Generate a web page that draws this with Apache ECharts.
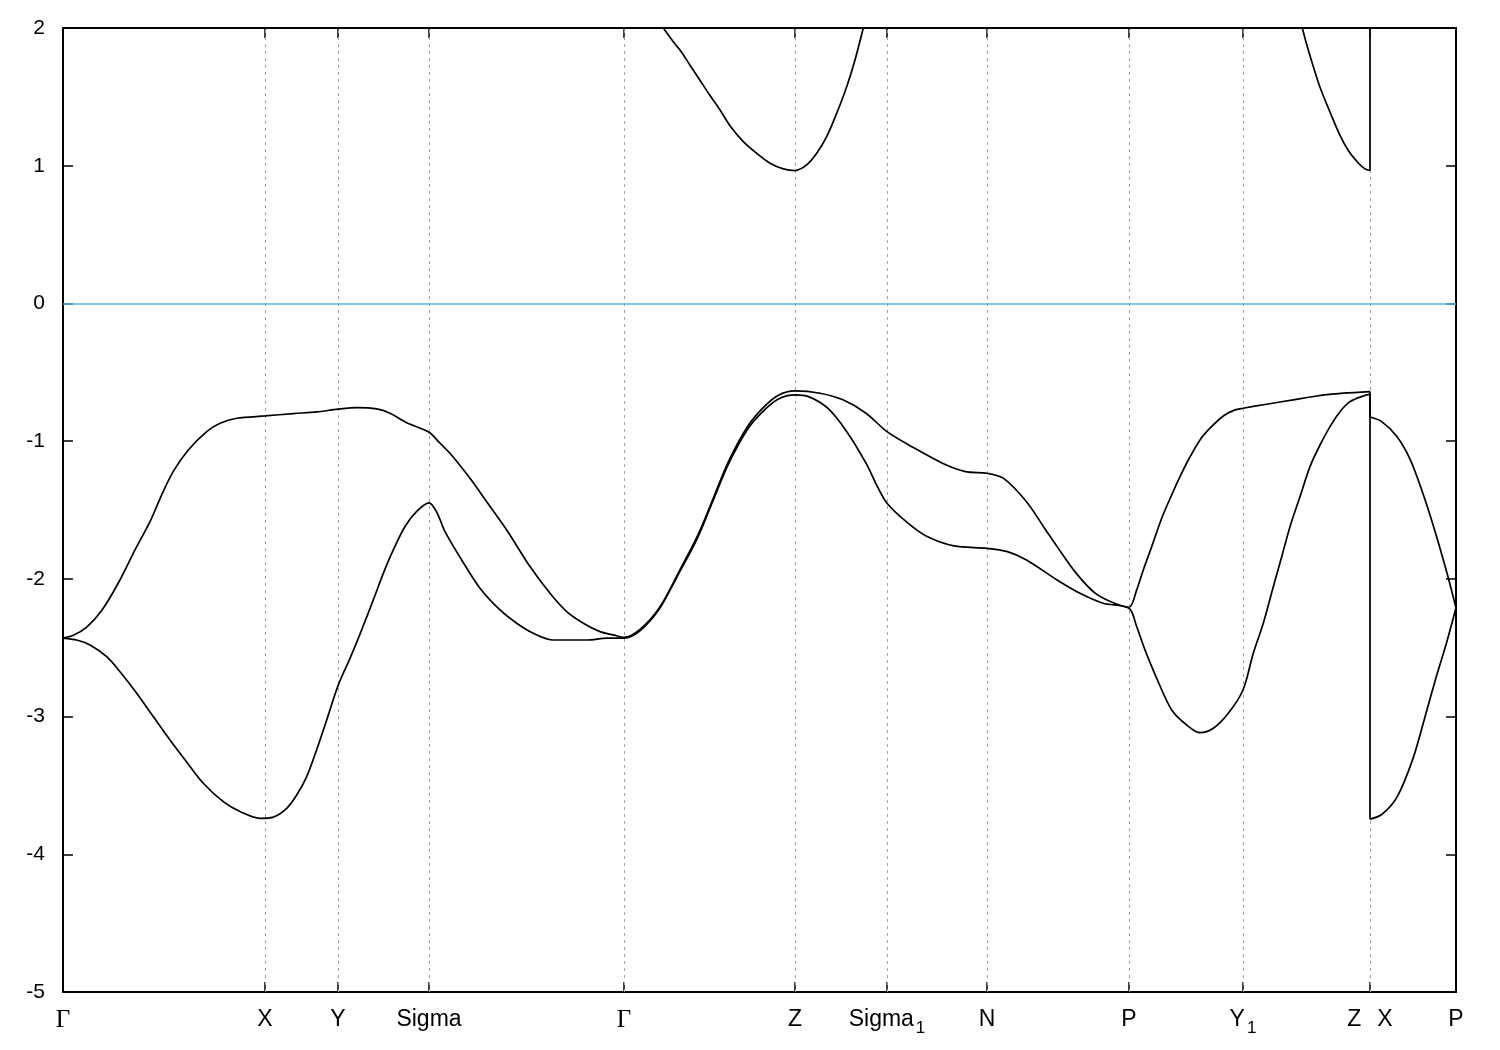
<!DOCTYPE html>
<html>
<head>
<meta charset="utf-8">
<script src="https://cdn.jsdelivr.net/npm/echarts@6/dist/echarts.min.js"></script>
<style>
  html, body { margin: 0; padding: 0; background: #ffffff; }
  #chart { width: 1500px; height: 1050px; }
</style>
</head>
<body>
<div id="chart"></div>
<script>
// High-symmetry points along the k-path
const kTicks = [0, 0.202, 0.275, 0.366, 0.561, 0.732, 0.824, 0.924, 1.066, 1.18, 1.307, 1.393];
const kLabels = ['Γ', 'X', 'Y', 'Sigma', 'Γ', 'Z', 'Sigma1', 'N', 'P', 'Y1', 'Z X', 'P'];
const energyTicks = [-5, -4, -3, -2, -1, 0, 1, 2];
const fermiLevel = 0;

// Lower valence band [k, E]
const band1 = [
  [0, -2.43], [0.0137, -2.444], [0.027, -2.48], [0.0437, -2.565], [0.057, -2.674],
  [0.0737, -2.83], [0.0903, -3.0], [0.107, -3.17], [0.1237, -3.33], [0.1403, -3.484],
  [0.1603, -3.618], [0.177, -3.69], [0.197, -3.739], [0.2103, -3.73], [0.2237, -3.666],
  [0.2337, -3.57], [0.2437, -3.436], [0.2537, -3.24], [0.2637, -3.025], [0.2753, -2.77],
  [0.287, -2.577], [0.2987, -2.37], [0.3103, -2.153], [0.3203, -1.96], [0.3303, -1.79],
  [0.342, -1.62], [0.3537, -1.51], [0.366, -1.448], [0.3737, -1.515], [0.382, -1.657],
  [0.3987, -1.863], [0.417, -2.068], [0.437, -2.226], [0.4537, -2.322], [0.4703, -2.395],
  [0.4903, -2.444], [0.5237, -2.444], [0.5437, -2.431], [0.561, -2.43],
  [0.5773, -2.375], [0.5964, -2.218], [0.6155, -1.965], [0.6347, -1.70], [0.65, -1.433],
  [0.6653, -1.168], [0.6844, -0.915], [0.6997, -0.785], [0.715, -0.695], [0.732, -0.664],
  [0.7456, -0.677], [0.7647, -0.761], [0.7838, -0.931], [0.803, -1.16], [0.8144, -1.33],
  [0.824, -1.451], [0.845, -1.596], [0.8641, -1.693], [0.8909, -1.761], [0.924, -1.778],
  [0.9444, -1.802], [0.9635, -1.863], [0.9941, -2.008], [1.017, -2.105], [1.04, -2.177],
  [1.066, -2.213],
  [1.0737, -2.347], [1.082, -2.516], [1.0937, -2.722], [1.1087, -2.952], [1.1237, -3.061],
  [1.137, -3.117], [1.1503, -3.085], [1.1653, -2.976], [1.18, -2.807], [1.1903, -2.54],
  [1.2003, -2.322], [1.2103, -2.057], [1.2187, -1.839], [1.227, -1.621], [1.237, -1.403],
  [1.247, -1.185], [1.257, -1.028], [1.267, -0.895], [1.277, -0.786], [1.287, -0.713],
  [1.3003, -0.672], [1.307, -0.659],
  [1.307, -3.745], [1.3187, -3.711], [1.3337, -3.589], [1.3503, -3.298], [1.3637, -2.957],
  [1.3737, -2.70], [1.3837, -2.46], [1.393, -2.21]
];

// Upper valence band [k, E]
const band2 = [
  [0, -2.43], [0.0103, -2.41], [0.0237, -2.35], [0.0387, -2.23], [0.0553, -2.03],
  [0.072, -1.79], [0.087, -1.585], [0.0987, -1.39], [0.1103, -1.22], [0.1253, -1.064],
  [0.1437, -0.931], [0.157, -0.87], [0.1737, -0.834], [0.202, -0.817], [0.2303, -0.80],
  [0.2537, -0.788], [0.275, -0.768], [0.2937, -0.757], [0.3137, -0.766], [0.327, -0.797],
  [0.3437, -0.866], [0.366, -0.935], [0.377, -1.015], [0.387, -1.088], [0.407, -1.27],
  [0.4237, -1.44], [0.4437, -1.645], [0.467, -1.911], [0.487, -2.105], [0.5037, -2.238],
  [0.5203, -2.322], [0.537, -2.383], [0.5503, -2.407], [0.561, -2.425],
  [0.5773, -2.365], [0.5964, -2.21], [0.6155, -1.955], [0.6347, -1.685], [0.65, -1.42],
  [0.6653, -1.15], [0.6844, -0.895], [0.6997, -0.76], [0.715, -0.668], [0.732, -0.635],
  [0.757, -0.652], [0.78, -0.70], [0.803, -0.797], [0.824, -0.931], [0.8488, -1.04],
  [0.8794, -1.16], [0.9024, -1.221], [0.924, -1.233], [0.9406, -1.27], [0.9635, -1.44],
  [0.9827, -1.645], [0.9941, -1.766], [1.0133, -1.96], [1.0324, -2.105], [1.0515, -2.177],
  [1.066, -2.206],
  [1.0737, -2.08], [1.0803, -1.935], [1.0887, -1.766], [1.0987, -1.56], [1.1087, -1.39],
  [1.117, -1.258], [1.1253, -1.137], [1.137, -0.991], [1.147, -0.906], [1.1603, -0.817],
  [1.172, -0.773], [1.18, -0.761], [1.2037, -0.732], [1.2303, -0.70], [1.2537, -0.672],
  [1.2803, -0.652], [1.307, -0.64],
  [1.307, -0.825], [1.3187, -0.858], [1.3337, -0.965], [1.347, -1.13], [1.359, -1.36],
  [1.371, -1.63], [1.3837, -1.95], [1.393, -2.21]
];

// Conduction band, visible part around Z
const band3a = [
  [0.6003, 2.0], [0.6103, 1.90], [0.617, 1.84], [0.627, 1.73], [0.637, 1.62],
  [0.647, 1.51], [0.657, 1.405], [0.667, 1.29], [0.6803, 1.175], [0.6937, 1.09],
  [0.707, 1.018], [0.7203, 0.977], [0.732, 0.965], [0.7437, 1.006], [0.7537, 1.09],
  [0.7637, 1.211], [0.7737, 1.381], [0.7837, 1.574], [0.792, 1.768], [0.8003, 2.0]
];

// Conduction band, visible part between Y1 and Z|X
const band3b = [
  [1.2393, 2.0], [1.2437, 1.88], [1.2503, 1.72], [1.257, 1.57], [1.267, 1.39],
  [1.277, 1.22], [1.2853, 1.11], [1.2953, 1.02], [1.302, 0.977], [1.307, 0.965],
  [1.307, 2.0]
];

function labelFor(value) {
  let best = 0, bd = Infinity;
  kTicks.forEach((t, i) => { const d = Math.abs(t - value); if (d < bd) { bd = d; best = i; } });
  const l = kLabels[best];
  if (l === 'Γ') return '{g|Γ}';
  if (l === 'Z X') return '{t|Z}{sp| }{t|X}';
  if (/1$/.test(l)) return '{t|' + l.slice(0, -1) + '}{s|1}';
  return '{t|' + l + '}';
}

// Split a band at path discontinuities (two consecutive points with the same k):
// continuous runs are drawn smoothed, the jumps are drawn as straight segments.
function splitBand(data) {
  const runs = [], jumps = [];
  let cur = [data[0]];
  for (let i = 1; i < data.length; i++) {
    if (data[i][0] === data[i - 1][0]) {
      runs.push(cur);
      jumps.push([data[i - 1], data[i]]);
      cur = [data[i]];
    } else {
      cur.push(data[i]);
    }
  }
  runs.push(cur);
  return { runs, jumps };
}

const lineStyleBand = { color: '#000000', width: 1.7 };
function lineSeries(name, data, smooth) {
  return {
    name, type: 'line', data, showSymbol: false, symbol: 'none', smooth,
    lineStyle: lineStyleBand, z: 5, animation: false, clip: true, silent: true
  };
}

const bandSeries = [];
[['band1', band1], ['band2', band2], ['band3a', band3a], ['band3b', band3b]].forEach(([name, data]) => {
  const { runs, jumps } = splitBand(data);
  runs.forEach((r, i) => { if (r.length > 1) bandSeries.push(lineSeries(name + '_' + i, r, 0.3)); });
  jumps.forEach((j, i) => bandSeries.push(lineSeries(name + '_jump' + i, j, false)));
});

const myChart = echarts.init(document.getElementById('chart'), null, { renderer: 'canvas' });

const axisColor = '#000000';
const option = {
  backgroundColor: '#ffffff',
  animation: false,
  grid: { left: 63, right: 44, top: 28, bottom: 58, containLabel: false },
  xAxis: [
    {
      type: 'value', min: 0, max: kTicks[kTicks.length - 1], position: 'bottom',
      axisLine: { show: true, onZero: false, lineStyle: { color: axisColor, width: 2 } },
      axisTick: { show: true, inside: true, length: 10, customValues: kTicks, lineStyle: { color: axisColor, width: 1.5 } },
      axisLabel: {
        show: true, customValues: kTicks, margin: 19, formatter: labelFor,
        rich: {
          t: { fontFamily: 'Liberation Sans', fontSize: 23, lineHeight: 26, color: '#000', padding: [0, 0, 8, 0] },
          s: { fontFamily: 'Liberation Sans', fontSize: 17, lineHeight: 26, color: '#000', padding: [8, 0, 0, 2] },
          sp: { fontSize: 23, lineHeight: 26, width: 16, padding: [0, 0, 8, 0] },
          g: { fontFamily: 'Liberation Serif', fontSize: 25, lineHeight: 26, color: '#000', padding: [0, 0, 8, 0] }
        }
      },
      splitLine: { show: false }
    },
    {
      type: 'value', min: 0, max: kTicks[kTicks.length - 1], position: 'top',
      axisLine: { show: true, onZero: false, lineStyle: { color: axisColor, width: 2 } },
      axisTick: { show: true, inside: true, length: 10, customValues: kTicks, lineStyle: { color: axisColor, width: 1.5 } },
      axisLabel: { show: false },
      splitLine: { show: false }
    }
  ],
  yAxis: [
    {
      type: 'value', min: energyTicks[0], max: energyTicks[energyTicks.length - 1], interval: 1, position: 'left',
      axisLine: { show: true, onZero: false, lineStyle: { color: axisColor, width: 2 } },
      axisTick: { show: true, inside: true, length: 10, lineStyle: { color: axisColor, width: 1.5 } },
      axisLabel: { show: true, margin: 18, fontFamily: 'Liberation Sans', fontSize: 21, color: '#000' },
      splitLine: { show: false }
    },
    {
      type: 'value', min: energyTicks[0], max: energyTicks[energyTicks.length - 1], interval: 1, position: 'right',
      axisLine: { show: true, onZero: false, lineStyle: { color: axisColor, width: 2 } },
      axisTick: { show: true, inside: true, length: 10, lineStyle: { color: axisColor, width: 1.5 } },
      axisLabel: { show: false },
      splitLine: { show: false }
    }
  ],
  series: [
    {
      name: 'guides', type: 'line', data: [], z: 1, silent: true,
      markLine: {
        silent: true, symbol: ['none', 'none'], label: { show: false }, animation: false, precision: 6,
        data: kTicks.slice(1, -1).map(k => ({ xAxis: k, lineStyle: { color: '#a0a0a0', width: 1, type: [3, 4] } }))
          .concat([{ yAxis: fermiLevel, lineStyle: { color: '#56b4e9', width: 1.5, type: 'solid' } }])
      }
    }
  ].concat(bandSeries)
};
myChart.setOption(option);
</script>
</body>
</html>
